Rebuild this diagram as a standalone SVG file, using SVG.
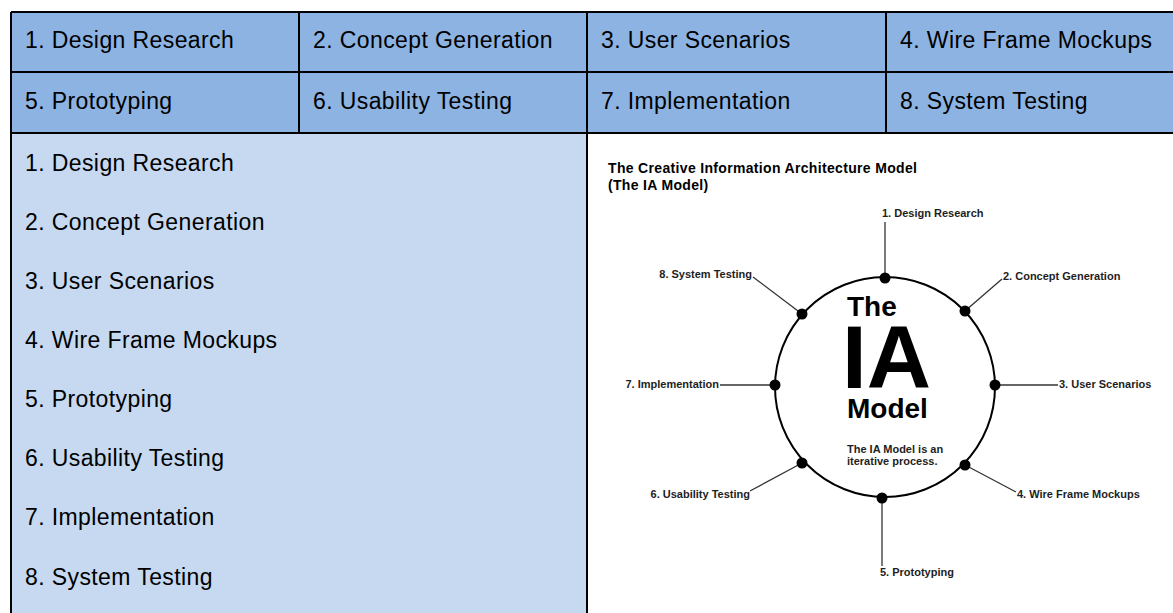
<svg xmlns="http://www.w3.org/2000/svg" width="1173" height="613" viewBox="0 0 1173 613">
<style>
.hdr{fill:#8db3e2}
.cell{fill:#c6d9f0}
.grid{stroke:#000;stroke-width:2;fill:none}
.t22{font-family:"Liberation Sans",Arial,sans-serif;font-size:23px;letter-spacing:0.4px;fill:#000}
.lbl{font-family:"Liberation Sans",Arial,sans-serif;font-size:11px;font-weight:bold;fill:#1e1e1e}
.big{font-family:"Liberation Sans",Arial,sans-serif;font-weight:bold;fill:#000}
.conn{stroke:#333;stroke-width:1.3;fill:none}
.dot{fill:#000}
</style>
<rect x="0" y="0" width="1173" height="613" fill="#fff"/>
<g id="table">
<rect class="hdr" x="11" y="12" width="1162" height="121"/>
<rect class="cell" x="11" y="133" width="576" height="480"/>
<rect x="587" y="133" width="586" height="480" fill="#fff"/>
<path class="grid" d="M11 12H1173M11 72H1173M11 133H1173M11 12V613M299 12V133M587 12V613M886 12V133"/>
</g>
<g id="header-1"><text class="t22" x="25" y="48">1. Design Research</text></g>
<g id="header-2"><text class="t22" x="313" y="48">2. Concept Generation</text></g>
<g id="header-3"><text class="t22" x="601" y="48">3. User Scenarios</text></g>
<g id="header-4"><text class="t22" x="900" y="48">4. Wire Frame Mockups</text></g>
<g id="header-5"><text class="t22" x="25" y="109">5. Prototyping</text></g>
<g id="header-6"><text class="t22" x="313" y="109">6. Usability Testing</text></g>
<g id="header-7"><text class="t22" x="601" y="109">7. Implementation</text></g>
<g id="header-8"><text class="t22" x="900" y="109">8. System Testing</text></g>
<g id="list">
<text class="t22" x="25" y="170.5">1. Design Research</text>
<text class="t22" x="25" y="229.6">2. Concept Generation</text>
<text class="t22" x="25" y="288.8">3. User Scenarios</text>
<text class="t22" x="25" y="347.9">4. Wire Frame Mockups</text>
<text class="t22" x="25" y="407.1">5. Prototyping</text>
<text class="t22" x="25" y="466.2">6. Usability Testing</text>
<text class="t22" x="25" y="525.4">7. Implementation</text>
<text class="t22" x="25" y="584.5">8. System Testing</text>
</g>
<g id="title">
<text class="big" x="608" y="172.5" font-size="14" letter-spacing="0.33" fill="#1e1e1e">The Creative Information Architecture Model</text>
<text class="big" x="608" y="189.5" font-size="14" letter-spacing="0.33" fill="#1e1e1e">(The IA Model)</text>
</g>
<g id="ia-circle">
<circle cx="885" cy="387" r="110" fill="none" stroke="#000" stroke-width="2"/>
<text class="big" x="847" y="316" font-size="28">The</text>
<text class="big" x="842" y="388" font-size="89">IA</text>
<text class="big" x="847" y="418" font-size="28">Model</text>
<text class="lbl" x="847" y="452.5">The IA Model is an</text>
<text class="lbl" x="847" y="465">iterative process.</text>
</g>
<g id="connectors">
<line class="conn" x1="885" y1="222" x2="885" y2="278"/>
<line class="conn" x1="965" y1="311" x2="1002" y2="279"/>
<line class="conn" x1="995" y1="385" x2="1058" y2="385"/>
<line class="conn" x1="965" y1="465" x2="1016" y2="492"/>
<line class="conn" x1="882" y1="498" x2="882" y2="566"/>
<line class="conn" x1="802" y1="463" x2="750" y2="491"/>
<line class="conn" x1="720" y1="385" x2="775" y2="385"/>
<line class="conn" x1="753" y1="277" x2="802" y2="314"/>
</g>
<g id="stage-1"><circle class="dot" cx="885" cy="278" r="5.5"/><text class="lbl" x="882" y="217">1. Design Research</text></g>
<g id="stage-2"><circle class="dot" cx="965" cy="311" r="5.5"/><text class="lbl" x="1003" y="280">2. Concept Generation</text></g>
<g id="stage-3"><circle class="dot" cx="995" cy="385" r="5.5"/><text class="lbl" x="1059" y="388">3. User Scenarios</text></g>
<g id="stage-4"><circle class="dot" cx="965" cy="465" r="5.5"/><text class="lbl" x="1017" y="497.5">4. Wire Frame Mockups</text></g>
<g id="stage-5"><circle class="dot" cx="882" cy="498" r="5.5"/><text class="lbl" x="880" y="576">5. Prototyping</text></g>
<g id="stage-6"><circle class="dot" cx="802" cy="463" r="5.5"/><text class="lbl" x="750" y="497.5" text-anchor="end">6. Usability Testing</text></g>
<g id="stage-7"><circle class="dot" cx="775" cy="385" r="5.5"/><text class="lbl" x="719" y="388" text-anchor="end">7. Implementation</text></g>
<g id="stage-8"><circle class="dot" cx="802" cy="314" r="5.5"/><text class="lbl" x="752" y="278" text-anchor="end">8. System Testing</text></g>
</svg>
